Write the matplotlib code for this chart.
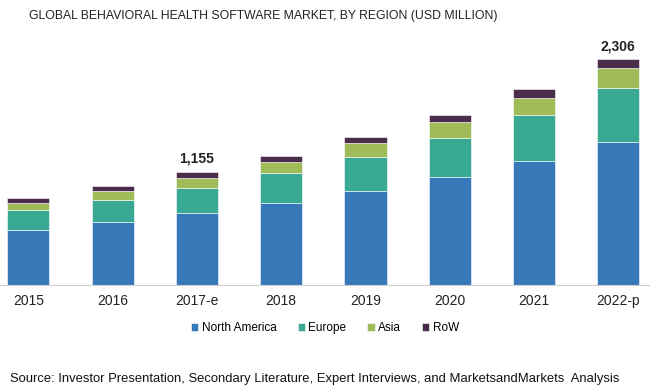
import matplotlib
matplotlib.use('Agg')
import matplotlib.pyplot as plt
import numpy as np

years = ['2015', '2016', '2017-e', '2018', '2019', '2020', '2021', '2022-p']
north_america = [558, 639, 728, 836, 955, 1098, 1262, 1456]
europe = [200, 225, 259, 300, 352, 403, 467, 552]
asia = [78, 95, 102, 120, 136, 160, 181, 201]
row = [48, 51, 66, 57, 64, 72, 85, 97]
labelled = {2: '1,155', 7: '2,306'}

series = [('North America', north_america, '#3778b9'),
          ('Europe', europe, '#39a994'),
          ('Asia', asia, '#a0bc59'),
          ('RoW', row, '#4a2c4b')]

plt.rcParams['font.family'] = ['Liberation Sans', 'DejaVu Sans']

fig = plt.figure(figsize=(6.5, 3.9), dpi=100)
ax = fig.add_axes([0, 0.2705, 1, 0.627])

x = np.arange(len(years))
bottom = np.zeros(len(years))
for name, vals, col in series:
    ax.bar(x, vals, 0.5, bottom=bottom, color=col, label=name, edgecolor='white', linewidth=0.4)
    bottom += np.array(vals)

for i, txt in labelled.items():
    ax.text(x[i], bottom[i] + 60, txt, ha='center', va='bottom', fontsize=10, fontweight='bold', color='#222222')

ax.set_xlim(-0.336, 7.376)
ax.set_ylim(0, 2500)
ax.set_xticks(x)
ax.set_xticklabels(years, fontsize=10, color='#222222')
ax.tick_params(axis='x', length=0, pad=7)
ax.set_yticks([])
for s in ['top', 'left', 'right']:
    ax.spines[s].set_visible(False)
ax.spines['bottom'].set_color('#d0d0d0')

fig.text(0.405, 0.958, 'GLOBAL BEHAVIORAL HEALTH SOFTWARE MARKET, BY REGION (USD MILLION)',
         ha='center', va='center', fontsize=8.8, color='#222222')

fig.legend(loc='center', bbox_to_anchor=(0.5, 0.158), ncol=4, frameon=False, fontsize=8.5,
           handlelength=0.6, handleheight=0.6, handletextpad=0.3, columnspacing=1.8)

fig.text(0.015, 0.028, 'Source: Investor Presentation, Secondary Literature, Expert Interviews, and MarketsandMarkets  Analysis',
         ha='left', va='center', fontsize=9.4, color='#111111')

plt.savefig('out.png', dpi=100)
